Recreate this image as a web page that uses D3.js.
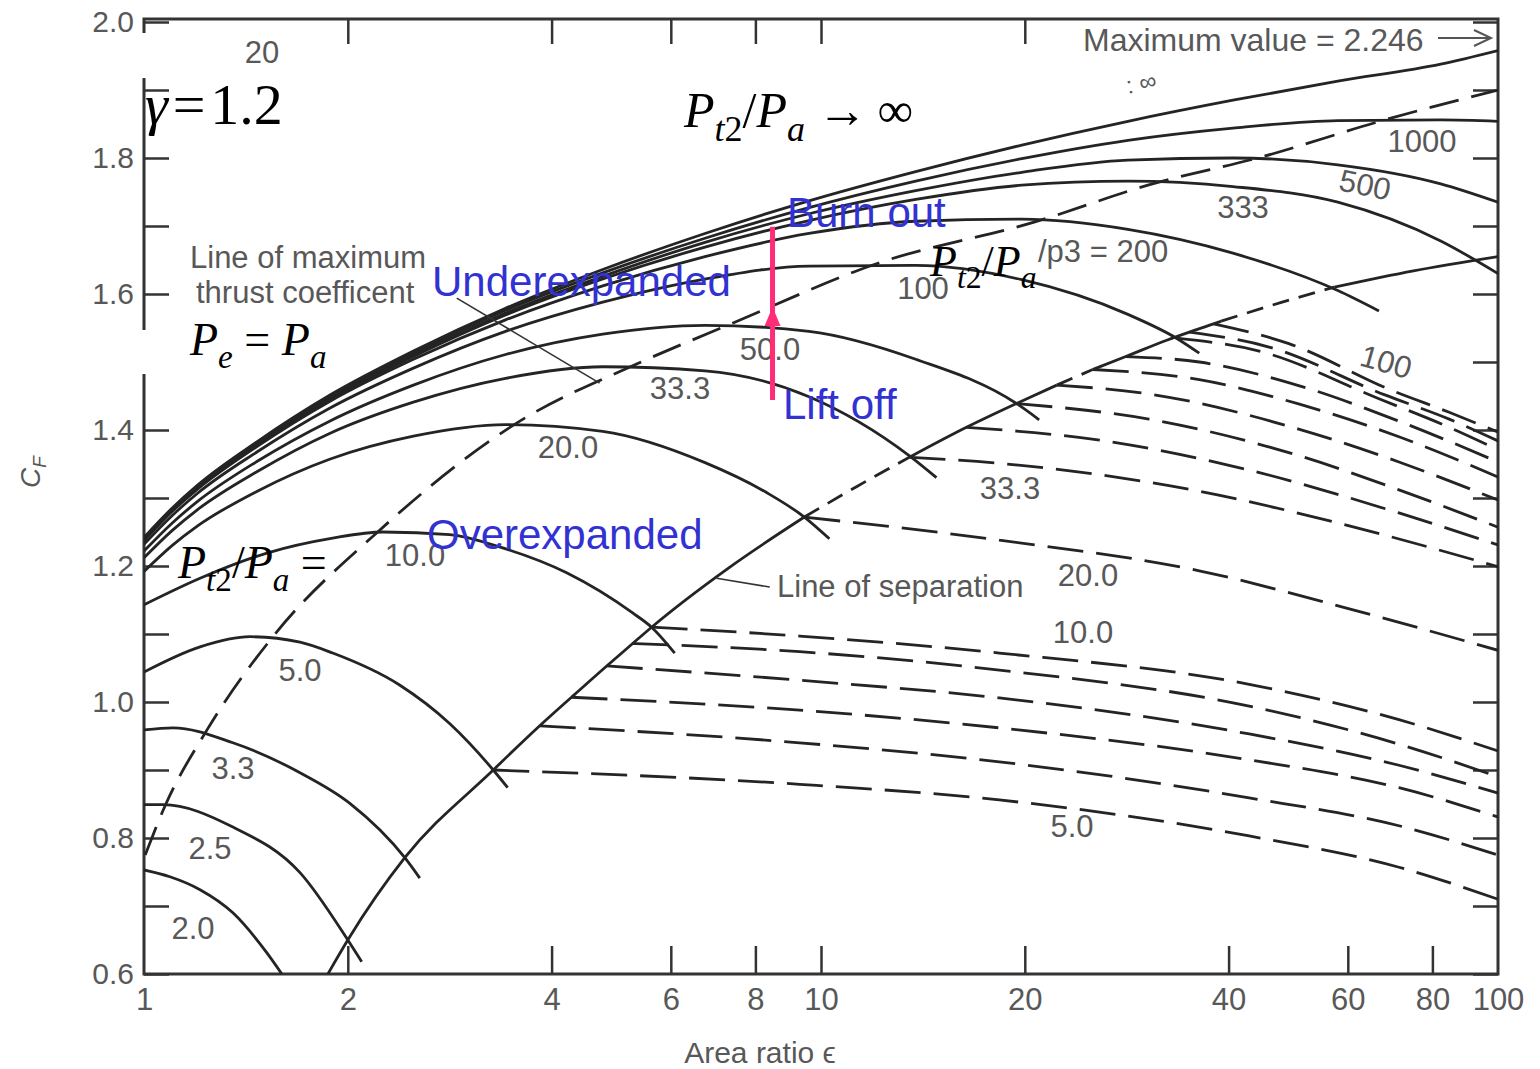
<!DOCTYPE html>
<html>
<head>
<meta charset="utf-8">
<script src="https://cdn.jsdelivr.net/npm/d3@7"></script>
<style>
  body { margin: 0; background: #fff; }
  svg { display: block; }
  .lab { font-family: "Liberation Sans", "DejaVu Sans", Arial, sans-serif; fill: #585858; }
  .blue { font-family: "Liberation Sans", Arial, sans-serif; fill: #3232d2; font-size: 42px; }
</style>
</head>
<body>
<svg id="chart" width="1540" height="1069"></svg>
<script>
// ---- data: [area ratio eps, C_F] ----
// solid curves, P_t2/P_a = 2 ... infinity
var cf_2_0 = [[1, 0.753], [1.092, 0.743], [1.21, 0.724], [1.353, 0.690], [1.519, 0.631], [1.598, 0.600]]
var cf_2_5 = [[1, 0.849], [1.067, 0.849], [1.353, 0.816], [1.70, 0.749], [2.0, 0.650], [2.097, 0.618]]
var cf_3_3 = [[1, 0.959], [1.104, 0.962], [1.353, 0.940], [1.70, 0.896], [2.014, 0.851], [2.428, 0.771], [2.555, 0.741]]
var cf_5 = [[1, 1.044], [1.21, 1.081], [1.434, 1.096], [1.70, 1.088], [1.90, 1.072], [2.385, 1.025], [2.83, 0.968], [3.28, 0.900], [3.445, 0.874]]
var cf_10 = [[1, 1.143], [1.21, 1.182], [1.519, 1.219], [1.90, 1.241], [2.254, 1.250], [2.83, 1.246], [3.35, 1.228], [4.21, 1.190], [5.27, 1.131], [5.62, 1.110], [6.08, 1.072]]
var cf_20 = [[1, 1.192], [1.1, 1.230], [1.2, 1.259], [1.47, 1.310], [1.88, 1.357], [2.5, 1.391], [3.42, 1.408], [4.76, 1.398], [6.74, 1.352], [8.31, 1.308], [9.45, 1.272], [10.29, 1.240]]
var cf_33 = [[1, 1.212], [1.1, 1.252], [1.2, 1.283], [1.47, 1.339], [1.88, 1.395], [2.5, 1.441], [3.42, 1.476], [4.76, 1.493], [6.74, 1.487], [9.6, 1.449], [13.51, 1.362], [14.81, 1.330]]
var cf_50 = [[1, 1.222], [1.1, 1.263], [1.2, 1.295], [1.47, 1.354], [1.88, 1.413], [2.5, 1.466], [3.42, 1.511], [4.76, 1.541], [6.74, 1.554], [9.6, 1.545], [13.8, 1.504], [19.44, 1.439], [21.0, 1.415]]
var cf_100 = [[1, 1.232], [1.1, 1.274], [1.2, 1.307], [1.47, 1.368], [1.88, 1.432], [2.5, 1.491], [3.42, 1.545], [4.76, 1.588], [6.74, 1.622], [9.6, 1.641], [13.8, 1.642], [19.8, 1.621], [28.4, 1.570], [33.5, 1.535], [36.2, 1.513]]
var cf_200 = [[1, 1.237], [1.1, 1.280], [1.2, 1.313], [1.47, 1.376], [1.88, 1.442], [2.5, 1.504], [3.42, 1.562], [4.76, 1.612], [6.74, 1.655], [9.6, 1.689], [13.8, 1.707], [19.8, 1.710], [28.4, 1.695], [40.6, 1.660], [58, 1.605], [66.7, 1.575]]
var cf_333 = [[1, 1.239], [1.1, 1.282], [1.2, 1.315], [1.47, 1.379], [1.88, 1.445], [2.5, 1.508], [3.42, 1.569], [4.76, 1.622], [6.74, 1.669], [9.6, 1.708], [13.8, 1.739], [19.8, 1.760], [28.4, 1.766], [40.6, 1.758], [58, 1.735], [82.3, 1.678], [100, 1.630]]
var cf_500 = [[1, 1.240], [1.1, 1.283], [1.2, 1.317], [1.47, 1.380], [1.88, 1.447], [2.5, 1.511], [3.42, 1.572], [4.76, 1.626], [6.74, 1.676], [9.6, 1.718], [13.8, 1.752], [19.8, 1.779], [28.4, 1.797], [40.6, 1.800], [58, 1.790], [82.3, 1.762], [100, 1.735]]
var cf_1000 = [[1, 1.241], [1.1, 1.284], [1.2, 1.318], [1.47, 1.382], [1.88, 1.449], [2.5, 1.514], [3.42, 1.576], [4.76, 1.631], [6.74, 1.682], [9.6, 1.727], [13.8, 1.766], [19.8, 1.799], [28.4, 1.826], [40.6, 1.844], [58, 1.855], [82.3, 1.856], [100, 1.854]]
var cf_inf = [[1, 1.242], [1.1, 1.285], [1.2, 1.319], [1.47, 1.383], [1.88, 1.451], [2.5, 1.516], [3.42, 1.579], [4.76, 1.636], [6.74, 1.689], [9.6, 1.737], [13.8, 1.780], [19.8, 1.819], [28.4, 1.854], [40.6, 1.885], [58, 1.913], [82.3, 1.938], [100, 1.958]]

// dashed continuations after separation (lower group)
var sep_a = [[5.62, 1.110], [9.3, 1.097], [18.34, 1.072], [42.9, 1.026], [71.4, 0.974], [100, 0.928]]
var sep_b = [[5.27, 1.086], [9.3, 1.074], [18.34, 1.047], [42.9, 0.994], [71.4, 0.938], [100, 0.890]]
var sep_c = [[4.825, 1.053], [9.3, 1.032], [18.34, 1.006], [42.9, 0.953], [71.4, 0.907], [100, 0.866]]
var sep_d = [[4.28, 1.007], [9.3, 0.988], [18.34, 0.962], [42.9, 0.915], [71.4, 0.874], [100, 0.831]]
var sep_e = [[3.842, 0.965], [9.3, 0.940], [18.34, 0.912], [42.9, 0.859], [71.4, 0.818], [100, 0.775]]
var sep_f = [[3.28, 0.900], [9.3, 0.879], [18.34, 0.856], [42.9, 0.803], [71.4, 0.757], [100, 0.710]]
// dashed continuations (upper group)
var sep_u20 = [[9.45, 1.272], [18.34, 1.238], [36.2, 1.193], [60.3, 1.137], [100, 1.076]]
var sep_u33 = [[13.51, 1.360], [18.34, 1.351], [36.2, 1.310], [60.3, 1.259], [100, 1.199]]
var sep_u40 = [[16.40, 1.404], [25.8, 1.385], [42.9, 1.341], [71.4, 1.278], [100, 1.231]]
var sep_u50 = [[19.44, 1.439], [30.5, 1.416], [50.9, 1.362], [71.4, 1.312], [100, 1.257]]
var sep_u60 = [[22.3, 1.466], [30.5, 1.453], [50.9, 1.401], [71.4, 1.353], [100, 1.297]]
var sep_u70 = [[25.2, 1.489], [36.2, 1.474], [50.9, 1.438], [71.4, 1.390], [100, 1.331]]
var sep_u80 = [[28.2, 1.508], [36.2, 1.500], [50.9, 1.465], [71.4, 1.413], [100, 1.353]]
var sep_u100 = [[33.5, 1.535], [44.4, 1.516], [66.7, 1.446], [84.7, 1.404], [100, 1.371]]
var sep_u120 = [[35.0, 1.544], [45.9, 1.522], [67.9, 1.452], [84.7, 1.416], [100, 1.384]]
var sep_u150 = [[38.0, 1.556], [49.1, 1.527], [69.0, 1.460], [84.7, 1.426], [100, 1.397]]

// line of maximum thrust coefficient (Pe = Pa)
var maxThrust = [[1.004, 0.775], [1.074, 0.847], [1.239, 0.959], [1.55, 1.096], [2.208, 1.249], [3.59, 1.413], [5.34, 1.497], [7.40, 1.557], [12.2, 1.646], [20.7, 1.706], [30.4, 1.760], [45.3, 1.803], [66.9, 1.854], [100, 1.900]]

// line of separation, solid and dashed pieces
var sepSolid1 = [[1.869, 0.600], [2.0, 0.650], [2.428, 0.771], [3.28, 0.900], [3.842, 0.965], [4.28, 1.007], [4.825, 1.053], [5.27, 1.086], [5.62, 1.110], [7.3, 1.197], [9.45, 1.272]]
var sepDash1 = [[9.45, 1.272], [11.3, 1.317], [13.51, 1.360]]
var sepSolid2 = [[13.51, 1.360], [16.40, 1.404], [19.44, 1.439], [22.3, 1.466]]
var sepDash2 = [[22.3, 1.466], [25.2, 1.489]]
var sepSolid3 = [[25.2, 1.489], [28.2, 1.508], [32.4, 1.532], [35.0, 1.544], [38.0, 1.556], [39.0, 1.560]]
var sepDash3 = [[39.0, 1.560], [48.0, 1.588], [57.3, 1.610]]
var sepSolid4 = [[57.3, 1.610], [75.0, 1.634], [100, 1.655]]

// lift off -> burn out
var burnLine = [[8.48, 1.444], [8.48, 1.699]]

// ticks
var yTicks = [0.6, 0.7, 0.8, 0.9, 1.0, 1.1, 1.2, 1.3, 1.4, 1.5, 1.6, 1.7, 1.8, 1.9, 2.0]
var xTickLabels = [1, 2, 4, 6, 8, 10, 20, 40, 60, 80, 100]
var xInnerTicks = [2, 4, 6, 8, 10, 20, 40, 60, 80]
var xTopTicks = [2, 4, 6, 8, 10, 20]

var svg = d3.select("#chart")
var x = d3.scaleLog().domain([1, 100]).range([144, 1498])
var y = d3.scaleLinear().domain([0.6, 2.0]).range([974, 22])
var ink = "#242424"
var lw = 2.8

svg.append("rect").attr("width", 1540).attr("height", 1069).attr("fill", "#fff")

svg.append("defs").append("clipPath").attr("id", "plot")
  .append("rect").attr("x", x(1)).attr("y", y(2.0) - 4)
  .attr("width", x(100) - x(1)).attr("height", y(0.6) - y(2.0) + 4)

// axes (ticks point inward)
function styleAxis(g) {
  g.select(".domain").remove()
  g.selectAll(".tick line").attr("stroke", "#333").attr("stroke-width", 2.5)
  g.selectAll(".tick text").attr("class", "lab").style("font-size", "30px").attr("fill", "#585858")
}
svg.append("g").attr("transform", "translate(" + x(1) + ",0)")
  .call(d3.axisLeft(y).tickValues(yTicks).tickSizeInner(-25).tickSizeOuter(0).tickPadding(10)
    .tickFormat(function (d) { return Math.round(d * 10) % 2 == 0 ? d3.format(".1f")(d) : "" }))
  .call(styleAxis)
svg.append("g").attr("transform", "translate(" + x(100) + ",0)")
  .call(d3.axisRight(y).tickValues(yTicks).tickSizeInner(-25).tickSizeOuter(0).tickFormat(""))
  .call(styleAxis)
svg.append("g").attr("transform", "translate(0," + y(0.6) + ")")
  .call(d3.axisBottom(x).tickValues(xInnerTicks).tickSizeInner(-28).tickSizeOuter(0).tickFormat(""))
  .call(styleAxis)
svg.append("g").attr("transform", "translate(0," + y(0.6) + ")")
  .call(d3.axisBottom(x).tickValues(xTickLabels).tickSize(0).tickPadding(14).tickFormat(d3.format("d")))
  .call(styleAxis)
  .selectAll(".tick text").style("font-size", "31px")
svg.append("g").attr("transform", "translate(0," + (y(2.0) - 3) + ")")
  .call(d3.axisTop(x).tickValues(xTopTicks).tickSizeInner(-25).tickSizeOuter(0).tickFormat(""))
  .call(styleAxis)

// frame
svg.append("rect")
  .attr("x", x(1)).attr("y", y(2.0) - 3)
  .attr("width", x(100) - x(1)).attr("height", y(0.6) - y(2.0) + 3)
  .attr("fill", "none").attr("stroke", "#333").attr("stroke-width", 3)

svg.append("text").attr("class", "lab").attr("x", 760).attr("y", 1063)
  .attr("text-anchor", "middle").style("font-size", "30px").text("Area ratio \u03f5")
var yl = svg.append("text").attr("class", "lab")
  .attr("transform", "translate(40,472) rotate(-90)").attr("text-anchor", "middle")
  .style("font-size", "28px").style("font-style", "italic")
yl.append("tspan").text("C")
yl.append("tspan").attr("dy", 6).style("font-size", "19px").text("F")

// curves
var line = d3.line()
  .x(function (d) { return x(d[0]) })
  .y(function (d) { return y(d[1]) })
  .curve(d3.curveMonotoneX)

var plot = svg.append("g").attr("clip-path", "url(#plot)")

var solidCurves = [cf_2_0, cf_2_5, cf_3_3, cf_5, cf_10, cf_20, cf_33, cf_50, cf_100, cf_200, cf_333, cf_500, cf_1000, cf_inf]
var dashedCurves = [sep_a, sep_b, sep_c, sep_d, sep_e, sep_f,
  sep_u20, sep_u33, sep_u40, sep_u50, sep_u60, sep_u70, sep_u80, sep_u100, sep_u120, sep_u150]

plot.selectAll(".solid").data(solidCurves).enter().append("path")
  .attr("class", "solid").attr("d", line)
  .attr("fill", "none").attr("stroke", ink).attr("stroke-width", lw)

plot.selectAll(".dashed").data(dashedCurves).enter().append("path")
  .attr("class", "dashed").attr("d", line)
  .attr("fill", "none").attr("stroke", ink).attr("stroke-width", lw)
  .attr("stroke-dasharray", "36,13")

plot.append("path").datum(maxThrust).attr("d", line)
  .attr("fill", "none").attr("stroke", ink).attr("stroke-width", lw)
  .attr("stroke-dasharray", "30,13")

;[sepSolid1, sepSolid2, sepSolid3, sepSolid4].forEach(function (s) {
  plot.append("path").datum(s).attr("d", line)
    .attr("fill", "none").attr("stroke", ink).attr("stroke-width", lw)
})
;[sepDash1, sepDash2, sepDash3].forEach(function (s) {
  plot.append("path").datum(s).attr("d", line)
    .attr("fill", "none").attr("stroke", ink).attr("stroke-width", lw)
    .attr("stroke-dasharray", "17,10")
})

// leader lines
svg.append("line").attr("x1", x(2.897)).attr("y1", y(1.594)).attr("x2", x(4.71)).attr("y2", y(1.469))
  .attr("stroke", "#333").attr("stroke-width", 1.6)
svg.append("line").attr("x1", x(7.01)).attr("y1", y(1.182)).attr("x2", x(8.40)).attr("y2", y(1.169))
  .attr("stroke", "#333").attr("stroke-width", 1.6)

// curve labels
var curveLabels = [
  ["2.0", 193, 928, 0], ["2.5", 210, 848, 0], ["3.3", 233, 768, 0], ["5.0", 300, 670, 0],
  ["10.0", 415, 555, 0], ["20.0", 568, 447, 0], ["33.3", 680, 388, 0], ["50.0", 770, 349, 0],
  ["100", 923, 288, 0], ["333", 1243, 207, 0], ["500", 1365, 185, 12], ["1000", 1422, 141, 0],
  ["100", 1386, 362, 16], ["33.3", 1010, 488, 0], ["20.0", 1088, 575, 0], ["10.0", 1083, 632, 0],
  ["5.0", 1072, 826, 0], ["20", 262, 52, 0]
]
svg.selectAll(".clab").data(curveLabels).enter().append("text")
  .attr("class", "lab")
  .attr("transform", function (d) { return "translate(" + d[1] + "," + d[2] + ") rotate(" + d[3] + ")" })
  .attr("text-anchor", "middle").attr("dominant-baseline", "central")
  .style("font-size", "31px").text(function (d) { return d[0] })

svg.append("text").attr("class", "lab").attr("x", 190).attr("y", 268).style("font-size", "31px").text("Line of maximum")
svg.append("text").attr("class", "lab").attr("x", 196).attr("y", 303).style("font-size", "31px").text("thrust coefficent")
svg.append("text").attr("class", "lab").attr("x", 777).attr("y", 597).style("font-size", "31px").text("Line of separation")
svg.append("text").attr("class", "lab").attr("x", 1038).attr("y", 262).style("font-size", "31px").text("/p3 = 200")
svg.append("text").attr("class", "lab").attr("x", 1128).attr("y", 94).attr("transform", "rotate(-12,1128,94)")
  .style("font-size", "24px").text(": \u221e")
svg.append("text").attr("class", "lab").attr("x", 1083).attr("y", 51).style("font-size", "32px").text("Maximum value = 2.246")
svg.append("line").attr("x1", 1438).attr("y1", 38).attr("x2", 1490).attr("y2", 38)
  .attr("stroke", "#555").attr("stroke-width", 2)
svg.append("path").attr("d", "M1474,30 L1491,38 L1474,46").attr("fill", "none")
  .attr("stroke", "#555").attr("stroke-width", 2)

// pasted-over boxes that cut the left axis
svg.append("rect").attr("x", 136).attr("y", 33).attr("width", 16).attr("height", 45).attr("fill", "#fff")
svg.append("rect").attr("x", 136).attr("y", 330).attr("width", 190).attr("height", 44).attr("fill", "#fff")

// serif math annotations
function mathText(px, py, size, parts) {
  var t = svg.append("text").attr("x", px).attr("y", py)
    .style("font-family", "'Liberation Serif', 'Times New Roman', serif")
    .style("font-size", size + "px").attr("fill", "#000")
  var shift = 0
  parts.forEach(function (p) {
    var want = p.sub ? size * 0.28 : 0
    t.append("tspan").attr("dy", want - shift)
      .style("font-style", p.it ? "italic" : "normal")
      .style("font-size", (p.sub ? size * 0.72 : size) + "px")
      .text(p.t)
    shift = want
  })
}
var ratioParts = [{ t: "P", it: true }, { t: "t", it: true, sub: true }, { t: "2", sub: true }, { t: "/" }, { t: "P", it: true }, { t: "a", it: true, sub: true }]
mathText(145, 124, 58, [{ t: "\u03b3", it: true }, { t: "\u200a=\u200a1.2" }])
mathText(684, 127, 50, ratioParts.concat([{ t: " \u2192\u2009\u221e" }]))
mathText(190, 355, 46, [{ t: "P", it: true }, { t: "e", it: true, sub: true }, { t: " = " }, { t: "P", it: true }, { t: "a", it: true, sub: true }])
mathText(178, 578, 46, ratioParts.concat([{ t: " =" }]))
mathText(930, 276, 44, ratioParts)

// blue annotations and the burn line
svg.append("text").attr("class", "blue").attr("x", 432).attr("y", 296).text("Underexpanded")
svg.append("text").attr("class", "blue").attr("x", 787).attr("y", 227).text("Burn out")
svg.append("text").attr("class", "blue").attr("x", 783).attr("y", 419).text("Lift off")
svg.append("text").attr("class", "blue").attr("x", 427).attr("y", 549).text("Overexpanded")

svg.append("path").datum(burnLine).attr("d", d3.line().x(function (d) { return x(d[0]) }).y(function (d) { return y(d[1]) }))
  .attr("stroke", "#ff2d78").attr("stroke-width", 5).attr("fill", "none")
var ax = x(burnLine[0][0]), ay = y(1.581)
svg.append("path").attr("d", "M" + ax + "," + ay + " L" + (ax - 8) + "," + (ay + 19) + " L" + (ax + 8) + "," + (ay + 19) + " Z")
  .attr("fill", "#ff2d78")
</script>
</body>
</html>
